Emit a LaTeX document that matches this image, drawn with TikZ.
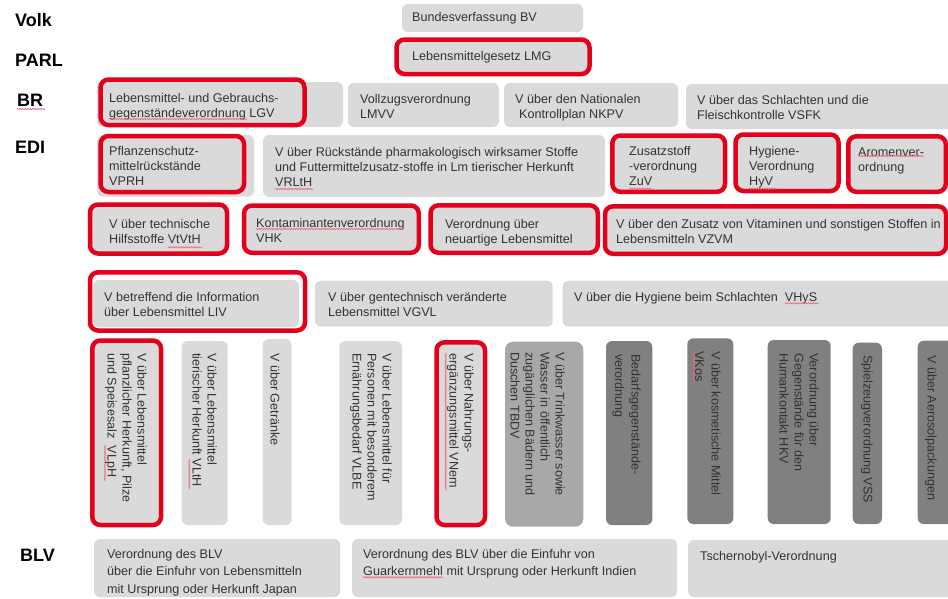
\documentclass[tikz,border=0pt]{standalone}
\usepackage{fontspec}
\setmainfont{Liberation Sans}
\usetikzlibrary{decorations.pathmorphing}

\definecolor{hellgrau}{HTML}{DADADA}
\definecolor{mittelgrau}{HTML}{A8A8A8}
\definecolor{dunkelgrau}{HTML}{808080}
\definecolor{rot}{HTML}{E3001B}
\definecolor{schrift}{HTML}{333333}

\tikzset{
  kasten/.style={fill=hellgrau, rounded corners=6pt},
  mittel/.style={fill=mittelgrau, rounded corners=8pt},
  dunkel/.style={fill=dunkelgrau, rounded corners=6pt},
  rahmen/.style={draw=rot, line width=4.5pt, rounded corners=8pt},
  markiert/.style={fill=hellgrau, draw=rot, line width=4.5pt, rounded corners=8pt},
  txt/.style={anchor=north west, inner sep=0pt, align=left, text=schrift,
    font=\fontsize{12.6}{15}\selectfont},
  senk/.style={txt, rotate=-90},
  stufe/.style={anchor=base west, inner sep=0pt, text=black,
    font=\bfseries\fontsize{18}{18}\selectfont},
  welle/.style={draw=rot!60, line width=0.6pt, decorate,
    decoration={snake, amplitude=0.7pt, segment length=2.5pt}}
}

\begin{document}
\begin{tikzpicture}[x=1pt, y=-1pt]
    \useasboundingbox (0,0) rectangle (948,598);

    % levels
    \node[stufe] (volk) at (15,26) {Volk};
    \node[stufe] (parl) at (15,66) {PARL};
    \node[stufe] (br) at (17,106) {BR};
    \node[stufe] (edi) at (15,153) {EDI};
    \node[stufe] (blv) at (20,561) {BLV};

    % Volk and PARL
    \fill[kasten] (402,4) rectangle (583,32);
    \node[txt] (bv) at (412,12.5) {Bundesverfassung BV};
    \path[markiert] (396.5,39.5) rectangle (589.5,74);
    \node[txt] (lmg) at (412,51.5) {Lebensmittelgesetz LMG};

    % BR line
    \fill[kasten] (97,82) rectangle (343,127);
    \draw[rahmen] (100.5,79.5) rectangle (304.5,125);
    \node[txt] (lgv) at (109,93) {Lebensmittel- und Gebrauchs-\\gegenständeverordnung LGV};
    \fill[kasten] (348,83) rectangle (499,127);
    \node[txt] (lmvv) at (360,94) {Vollzugsverordnung\\LMVV};
    \fill[kasten] (504,83) rectangle (678,127);
    \node[txt] (nkpv) at (515,94) {V über den Nationalen\\\hspace*{4pt}Kontrollplan NKPV};
    \fill[kasten] (686,84) rectangle (960,129);
    \node[txt] (vsfk) at (697,95) {V über das Schlachten und die\\Fleischkontrolle VSFK};

    % EDI first line
    \fill[kasten] (97,135) rectangle (254,196.5);
    \draw[rahmen] (100.5,136) rectangle (244,192);
    \node[txt] (vprh) at (109,146.5) {Pflanzenschutz-\\mittelrückstände\\VPRH};
    \fill[kasten] (263,135) rectangle (605,197);
    \node[txt] (vrlth) at (275,147.5) {V über Rückstände pharmakologisch wirksamer Stoffe\\und Futtermittelzusatz-stoffe in Lm tierischer Herkunft\\VRLtH};
    \path[markiert] (612.3,135.5) rectangle (725,191.8);
    \node[txt] (zuv) at (629,146.5) {Zusatzstoff\\-verordnung\\ZuV};
    \path[markiert] (735.5,134.5) rectangle (838.5,191);
    \node[txt] (hyv) at (749,146.5) {Hygiene-\\Verordnung\\HyV};
    \path[markiert] (848.3,136.3) rectangle (945.8,191.8);
    \node[txt] (arom) at (858,148) {Aromenver-\\ordnung};

    % EDI second line
    \path[markiert] (90,204.5) rectangle (227,253.5);
    \node[txt] (vtvth) at (109,219.3) {V über technische\\Hilfsstoffe VtVtH};
    \path[markiert] (244,205.5) rectangle (418.8,252.8);
    \node[txt] (vhk) at (256,218) {Kontaminantenverordnung\\VHK};
    \path[markiert] (430.5,205.3) rectangle (597.8,252.8);
    \node[txt] (vnl) at (445,219) {Verordnung über\\neuartige Lebensmittel};
    \path[markiert] (605,206.3) rectangle (946,253.8);
    \node[txt] (vzvm) at (616,219) {V über den Zusatz von Vitaminen und sonstigen Stoffen in\\Lebensmitteln VZVM};

    % third line
    \draw[rahmen] (90,272.3) rectangle (305,330.5);
    \fill[kasten] (93,280) rectangle (299,327);
    \node[txt] (liv) at (104,291.7) {V betreffend die Information\\über Lebensmittel LIV};
    \fill[kasten] (315,280.7) rectangle (552.7,326.7);
    \node[txt] (vgvl) at (328,291.7) {V über gentechnisch veränderte\\Lebensmittel VGVL};
    \fill[kasten] (562.7,280.7) rectangle (960,326.7);
    \node[txt] (vhys) at (574,292) {V über die Hygiene beim Schlachten\hspace{7pt}VHyS};

    % upright boxes
    \path[markiert] (92.3,340.5) rectangle (161,525);
    \node[senk] (vlph) at (147,353) {V über Lebensmittel\\pflanzlicher Herkunft, Pilze\\und Speisesalz\hspace{7pt}VLpH};
    \fill[kasten] (181.7,341) rectangle (227.7,525);
    \node[senk] (vlth) at (217,353) {V über Lebensmittel\\tierischer Herkunft VLtH};
    \fill[kasten] (262.7,339) rectangle (291.7,525);
    \node[senk] (getr) at (280,353) {V über Getränke};
    \fill[kasten] (339.3,341) rectangle (402,525);
    \node[senk] (vlbe) at (392,353) {V über Lebensmittel für\\Personen mit besonderem\\Ernährungsbedarf VLBE};
    \path[markiert] (436.5,342.3) rectangle (485,525);
    \node[senk] (vnem) at (474,353) {V über Nahrungs-\\ergänzungsmittel VNem};
    \fill[mittel] (505,341.7) rectangle (583.3,526.7);
    \node[senk] (tbdv) at (565,352) {V über Trinkwasser sowie\\Wasser in öffentlich\\zugänglichen Bädern und\\Duschen TBDV};
    \fill[dunkel] (606,341) rectangle (652.3,525);
    \node[senk, font=\fontsize{12.6}{16.5}\selectfont] (bgv) at (641,354) {Bedarfsgegenstände-\\verordnung};
    \fill[dunkel] (687.3,338.3) rectangle (733.3,524);
    \node[senk, font=\fontsize{12.6}{16.5}\selectfont] (vkos) at (721,351) {V über kosmetische Mittel\\VKos};
    \fill[dunkel] (767.7,340) rectangle (830.7,524);
    \node[senk] (hkv) at (819,353) {Verordnung über\\Gegenstände für den\\Humankontakt HKV};
    \fill[dunkel] (852.7,342.7) rectangle (882,524);
    \node[senk] (vss) at (873,355) {Spielzeugverordnung VSS};
    \fill[dunkel] (917.7,340.7) rectangle (960,524);
    \node[senk] (aero) at (937,355) {V über Aerosolpackungen};

    % BLV line
    \fill[kasten] (94,539) rectangle (340,597);
    \node[txt, font=\fontsize{12.6}{17.4}\selectfont] (japan) at (107,549) {Verordnung des BLV\\über die Einfuhr von Lebensmitteln\\mit Ursprung oder Herkunft Japan};
    \fill[kasten] (352,539) rectangle (677,597);
    \node[txt, font=\fontsize{12.6}{17.4}\selectfont] (indien) at (363,549) {Verordnung des BLV über die Einfuhr von\\Guarkernmehl mit Ursprung oder Herkunft Indien};
    \fill[kasten] (688,540) rectangle (960,597);
    \node[txt] (tscher) at (700,551) {Tschernobyl-Verordnung};

    % spelling marks
    \draw[welle] (17,109) -- (45,109);
    \draw[welle] (109,119) -- (247,119);
    \draw[welle] (275,189) -- (313,189);
    \draw[welle] (629,188.7) -- (652,188.7);
    \draw[welle] (749,188.7) -- (777,188.7);
    \draw[welle] (858,156) -- (924,156);
    \draw[welle] (168,247.3) -- (202,247.3);
    \draw[welle] (256,229) -- (404,229);
    \draw[welle] (785,303.3) -- (819,303.3);
    \draw[welle] (363,577.3) -- (443,577.3);
    \draw[welle] (105,445) -- (105,481);
    \draw[welle] (189.3,459.3) -- (189.3,489.3);
    \draw[welle] (445.7,353.3) -- (445.7,490.7);
    \draw[welle] (694,351) -- (694,381);
\end{tikzpicture}
\end{document}
